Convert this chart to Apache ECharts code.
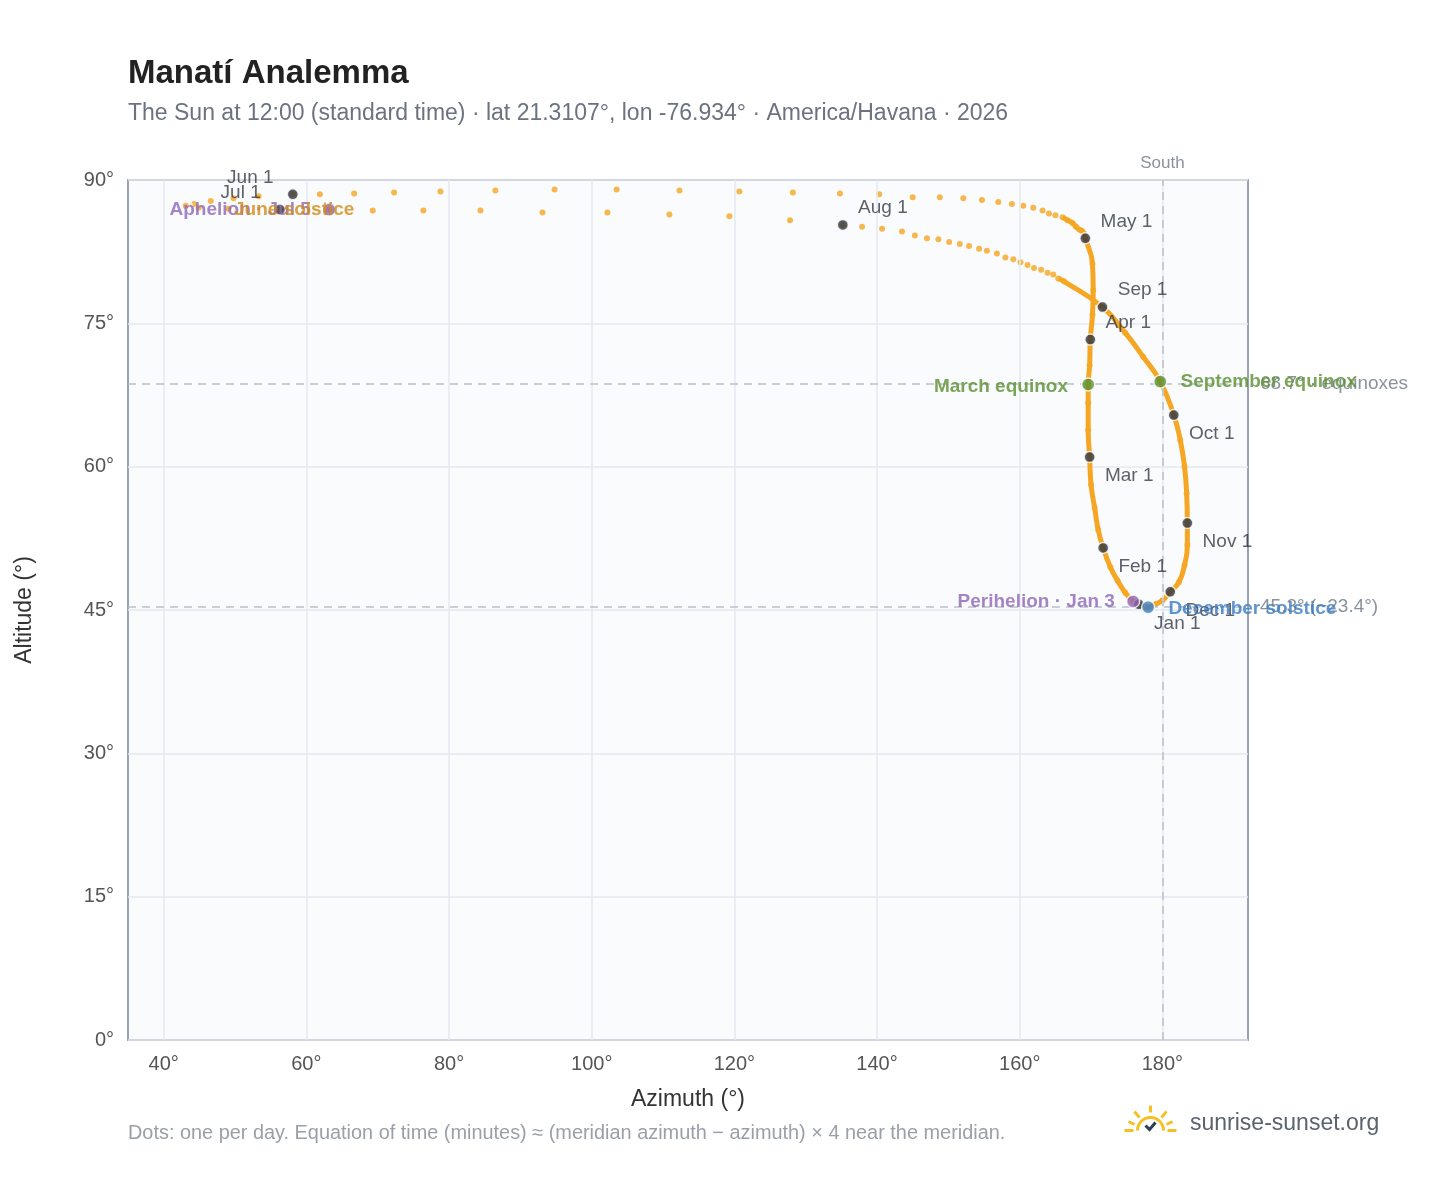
<!DOCTYPE html>
<html><head><meta charset="utf-8">
<script src="https://cdn.jsdelivr.net/npm/echarts@6/dist/echarts.min.js"></script>
<style>html,body{margin:0;padding:0;background:#fff}#c{width:1448px;height:1188px}</style>
</head><body><div id="c"></div>
<script>
// Sun positions at 12:00
const dates = ["Jan 1","Jan 3","Jan 8","Jan 15","Jan 22","Feb 1","Feb 8","Feb 15","Feb 22","Mar 1","Mar 8","Mar 15","Mar 20","Mar 25","Apr 1","Apr 8","Apr 15","Apr 22","May 1","May 2","May 3","May 4","May 5","May 6","May 7","May 8","May 9","May 10","May 11","May 12","May 13","May 14","May 15","May 16","May 17","May 18","May 19","May 20","May 21","May 22","May 23","May 24","May 25","May 26","May 27","May 28","May 29","May 30","May 31","Jun 1","Jun 3","Jun 6","Jun 10","Jun 15","Jun 21","Jun 25","Jun 28","Jul 1","Jul 5","Jul 8","Jul 11","Jul 14","Jul 17","Jul 20","Jul 23","Jul 26","Jul 29","Aug 1","Aug 2","Aug 3","Aug 4","Aug 5","Aug 6","Aug 7","Aug 8","Aug 9","Aug 10","Aug 11","Aug 12","Aug 13","Aug 14","Aug 15","Aug 16","Aug 17","Aug 18","Aug 19","Aug 20","Aug 21","Aug 22","Aug 24","Sep 1","Sep 8","Sep 15","Sep 22","Oct 1","Oct 8","Oct 15","Oct 22","Nov 1","Nov 8","Nov 15","Nov 22","Dec 1","Dec 8","Dec 14","Dec 21","Dec 28"];
const azimuth = [176.7,175.9,174.8,173.7,172.7,171.7,171.0,170.5,170.0,169.8,169.6,169.6,169.6,169.8,169.9,170.2,170.3,170.2,169.2,169.0,168.7,168.4,167.9,167.4,166.7,166.0,165.0,164.1,163.2,161.9,160.5,158.9,157.0,154.7,152.1,148.8,145.0,140.3,134.8,128.2,120.7,112.3,103.5,94.8,86.5,78.8,72.3,66.7,61.9,58.1,53.3,49.8,46.6,44.2,43.1,44.9,49.1,56.3,63.2,69.3,76.4,84.4,93.1,102.2,110.9,119.3,127.8,135.2,137.9,140.7,143.5,145.3,147.0,148.6,150.1,151.6,152.9,154.3,155.4,156.8,158.0,159.1,160.1,161.1,162.0,163.0,163.9,164.7,165.4,166.2,171.6,174.8,177.3,179.7,181.6,182.5,183.1,183.4,183.5,183.5,183.1,182.3,181.1,180.0,179.0,178.0,177.2];
const altitude = [45.6,45.9,46.8,48.1,49.5,51.5,53.4,55.7,58.1,61.0,63.8,66.7,68.6,70.6,73.3,75.9,78.5,81.2,83.9,84.4,84.7,84.8,85.1,85.5,85.8,86.1,86.3,86.5,86.8,87.1,87.3,87.5,87.7,87.9,88.1,88.2,88.2,88.5,88.6,88.7,88.8,88.9,89.0,89.0,88.9,88.8,88.7,88.6,88.5,88.5,88.3,88.1,87.8,87.5,87.3,87.1,87.0,86.9,86.9,86.8,86.8,86.8,86.6,86.6,86.4,86.2,85.8,85.3,85.1,84.9,84.6,84.2,83.9,83.8,83.5,83.3,83.1,82.8,82.6,82.3,81.9,81.7,81.4,81.1,80.8,80.6,80.3,80.1,79.7,79.4,76.7,74.0,71.5,68.9,65.4,62.8,60.0,57.2,54.1,51.8,49.7,47.9,46.9,46.0,45.6,45.3,45.4];
const monthStarts = ["Jan 1","Feb 1","Mar 1","Apr 1","May 1","Jun 1","Jul 1","Aug 1","Sep 1","Oct 1","Nov 1","Dec 1"];
const xTicks = [40,60,80,100,120,140,160,180];
const yTicks = [0,15,30,45,60,75,90];
const equinoxAlt = 68.7, decSolsticeAlt = 45.3, southAz = 180;

const pt = d => { const i = dates.indexOf(d); return [azimuth[i], altitude[i]]; };
const allPts = dates.map((d,i)=>[azimuth[i],altitude[i]]);
const idx = d => dates.indexOf(d);
const lineA = allPts.slice(0, idx("May 8")+1);
const lineB = allPts.slice(idx("Aug 22")).concat([allPts[0]]);

const upRight = {position:'right', offset:[4,-17]};
const downRight = {position:'right', offset:[4,19]};
const upLeft = {position:'left', offset:[-8,-17]};
const labelPos = {"Jan 1":downRight,"Feb 1":downRight,"Mar 1":downRight,"Apr 1":upRight,"May 1":upRight,"Jun 1":upLeft,"Jul 1":upLeft,"Aug 1":upRight,"Sep 1":upRight,"Oct 1":downRight,"Nov 1":downRight,"Dec 1":downRight};
const monthPts = monthStarts.map(d => ({value: pt(d), label: Object.assign({show:true, formatter:d, color:'#333a44', fontSize:19}, labelPos[d])}));

function special(d, color, text, pos, off){
  return {value: pt(d), itemStyle:{color}, label:{show:true, formatter:text, position:pos, offset:off||[0,0], color, fontWeight:'bold', fontSize:19}};
}
const specials = [
  special("Jan 3",'#8e67b8','Perihelion · Jan 3','left',[-6,0]),
  special("Jul 5",'#8e67b8','Aphelion · Jul 5','left',[-6,0]),
  special("Mar 20",'#5a8f2e','March equinox','left',[-8,2]),
  special("Sep 22",'#5a8f2e','September equinox','right',[8,0]),
  special("Dec 21",'#3a7cc3','December solstice','right',[8,2]),
];
const junSol = {value: pt("Jun 21"), itemStyle:{color:'rgba(0,0,0,0)'}, label:{show:true, formatter:'June solstice', position:'right', offset:[36,4], color:'#d48a10', fontWeight:'bold', fontSize:19}};

const chart = echarts.init(document.getElementById('c'));
const ff = 'Liberation Sans, Arial, sans-serif';
const gridLine = {color:'#e5e9ef', width:1.5, type:'solid'};
chart.setOption({
  textStyle:{fontFamily:ff},
  animation:false,
  title:{text:'Manatí Analemma', left:123, top:52, textStyle:{fontSize:33, fontWeight:'bold', color:'#222'},
    subtext:'The Sun at 12:00 (standard time) · lat 21.3107°, lon -76.934° · America/Havana · 2026', subtextStyle:{fontSize:23, color:'#6b7280'}, itemGap:12},
  grid:{left:128, top:180, width:1120, height:860, show:true, backgroundColor:'#f9fbfd', borderColor:'#98a2b3', borderWidth:2},
  xAxis:{type:'value', min:35, max:192, name:'Azimuth (°)', nameLocation:'middle', nameGap:48, nameTextStyle:{fontSize:23, color:'#333'},
    axisLine:{show:false}, axisTick:{show:false},
    axisLabel:{fontSize:20, color:'#555', margin:14, customValues: xTicks, formatter:v=>v+'°'},
    splitLine:{show:false}},
  yAxis:{type:'value', min:0, max:90, interval:15, name:'Altitude (°)', nameLocation:'middle', nameGap:92, nameRotate:90, nameTextStyle:{fontSize:23, color:'#333'},
    axisLine:{show:false}, axisTick:{show:false},
    axisLabel:{fontSize:20, color:'#555', margin:14, formatter:v=>v+'°'},
    splitLine:{lineStyle:{color:'#e5e9ef', width:1.5}}},
  series:[
    {type:'line', data:[], silent:true, z:1,
      markLine:{silent:true, symbol:'none', label:{show:false}, lineStyle:gridLine, data: xTicks.map(v=>({xAxis:v}))}},
    {type:'line', data:lineA, smooth:true, symbol:'none', lineStyle:{color:'#f5a623', width:5}, z:2,
      markLine:{silent:true, symbol:'none', lineStyle:{color:'#b9c0ca', type:[8,6], width:1.5},
        data:[
          {yAxis:equinoxAlt, label:{formatter:equinoxAlt+'° · equinoxes', position:'end', color:'#8a929c', fontSize:19, distance:12}},
          {yAxis:decSolsticeAlt, label:{formatter:decSolsticeAlt+'° (−23.4°)', position:'end', color:'#8a929c', fontSize:19, distance:12}},
          {xAxis:southAz, label:{formatter:'South', position:'end', color:'#8a929c', fontSize:17, distance:8}}
        ]}},
    {type:'line', data:lineB, smooth:true, symbol:'none', lineStyle:{color:'#f5a623', width:5}, z:2},
    {type:'scatter', data:allPts, symbolSize:6, itemStyle:{color:'#f5a623'}, z:3},
    {type:'scatter', data:monthPts, symbolSize:11, itemStyle:{color:'#2f3640', borderColor:'#fff', borderWidth:1.5}, z:5},
    {type:'scatter', data:specials.concat([junSol]), symbolSize:13, itemStyle:{borderColor:'#fff', borderWidth:1.5}, z:6},
  ],
  graphic:[
    {type:'text', left:128, top:1124, style:{text:'Dots: one per day. Equation of time (minutes) ≈ (meridian azimuth − azimuth) × 4 near the meridian.', fontSize:19.9, fill:'#9aa0a8', fontFamily:ff}},
    {type:'text', left:1190, top:1112, style:{text:'sunrise-sunset.org', fontSize:23, fill:'#5b6270', fontFamily:ff}},
    {type:'group', left:1122, top:1103, children:[
      {type:'arc', shape:{cx:26, cy:28, r:13, startAngle:Math.PI, endAngle:2*Math.PI}, style:{stroke:'#f5c024', lineWidth:3, fill:null}},
      {type:'line', shape:{x1:0,y1:28,x2:9,y2:28}, style:{stroke:'#f5c024', lineWidth:3}},
      {type:'line', shape:{x1:43,y1:28,x2:52,y2:28}, style:{stroke:'#f5c024', lineWidth:3}},
      {type:'line', shape:{x1:26,y1:3,x2:26,y2:10}, style:{stroke:'#f5c024', lineWidth:3}},
      {type:'line', shape:{x1:10,y1:9,x2:15,y2:15}, style:{stroke:'#f5c024', lineWidth:3}},
      {type:'line', shape:{x1:42,y1:9,x2:37,y2:15}, style:{stroke:'#f5c024', lineWidth:3}},
      {type:'line', shape:{x1:4,y1:19,x2:10,y2:22}, style:{stroke:'#f5c024', lineWidth:3}},
      {type:'line', shape:{x1:48,y1:19,x2:42,y2:22}, style:{stroke:'#f5c024', lineWidth:3}},
      {type:'polyline', shape:{points:[[21,23],[25,27],[31,20]]}, style:{stroke:'#2d3e55', lineWidth:3, fill:null}}
    ]}
  ]
});
</script></body></html>
